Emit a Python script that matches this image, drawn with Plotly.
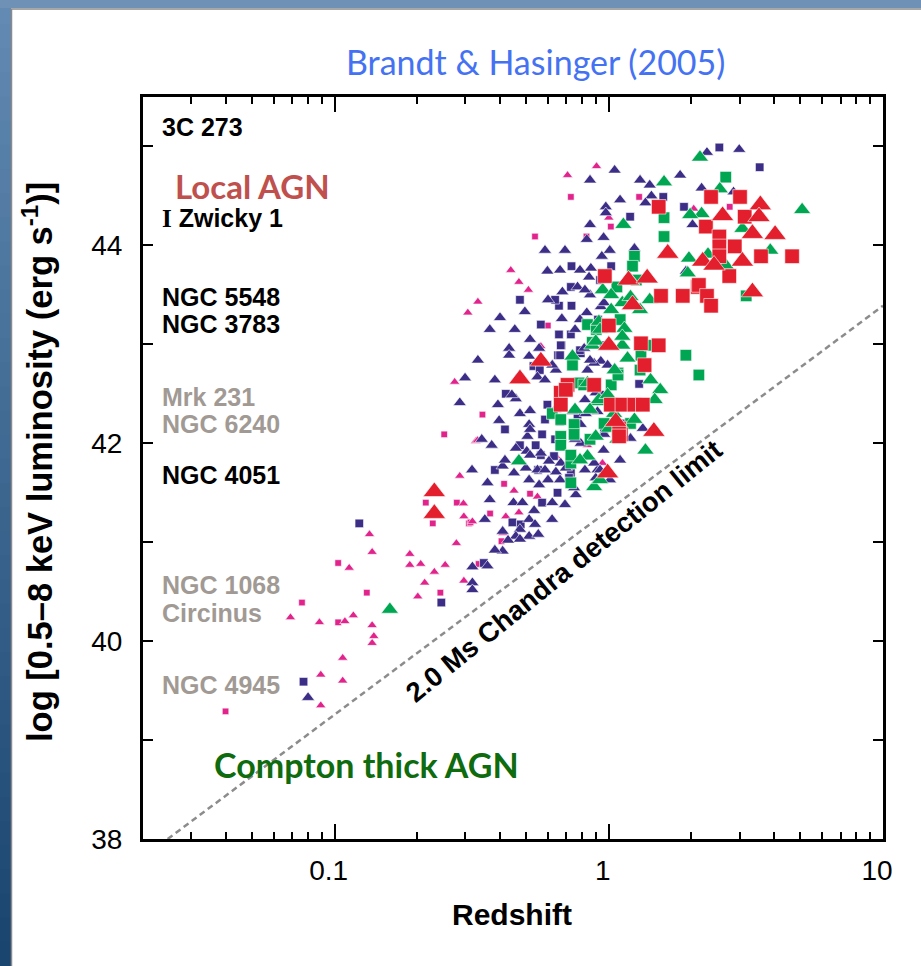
import plotly.graph_objects as go

# ---------------- data: redshift and log10 X-ray luminosity ----------------
# optically faint / low-z sources (magenta)
mag_tri_z = [0.089, 0.089, 0.107, 0.107, 0.069, 0.088, 0.109, 0.117, 0.137, 0.139, 0.137,
             0.113, 0.134, 0.137, 0.188, 0.188, 0.206, 0.213, 0.231, 0.253, 0.201, 0.278,
             0.295, 0.296, 0.286, 0.318, 0.296, 0.327, 0.274, 0.332, 0.421, 0.451, 0.470,
             0.549, 0.411, 0.641, 0.836, 0.948, 0.565, 0.902, 0.707, 0.439, 0.470, 0.509,
             0.333, 0.306, 1.00, 2.04]
mag_tri_L = [39.35, 39.66, 39.60, 39.83, 40.24, 40.19, 40.20, 40.26, 40.16, 40.05, 39.98,
             40.74, 41.08, 40.90, 40.88, 40.77, 40.78, 40.59, 40.70, 40.77, 40.45, 40.99,
             41.39, 41.26, 41.67, 41.21, 40.61, 42.02, 42.62, 42.03, 41.26, 41.52, 41.30,
             41.46, 41.09, 41.87, 41.98, 41.80, 42.98, 44.80, 44.71, 43.75, 43.63, 43.55,
             43.43, 43.32, 44.28, 44.37]
mag_sq_z = [0.040, 0.076, 0.103, 0.103, 0.131, 0.243, 0.279, 0.228, 0.215, 0.309, 0.335,
            0.251, 0.346, 0.313, 0.369, 0.415, 0.516, 0.406, 0.727, 0.538, 0.829, 1.017,
            1.29, 0.599, 2.76]
mag_sq_L = [39.29, 40.39, 40.19, 40.79, 40.49, 40.49, 41.40, 41.19, 41.40, 41.19, 40.78,
            42.09, 42.29, 41.20, 41.29, 41.59, 41.49, 41.01, 44.49, 44.09, 44.09, 44.19,
            44.49, 43.19, 44.39]

# navy sources
navy_tri_z = [0.080, 0.318, 0.318, 0.318, 0.433, 0.433, 0.512, 0.557, 0.549, 0.641, 0.458,
              0.286, 0.398, 0.474, 0.516, 0.512, 0.374, 0.458, 0.505, 0.502, 0.565, 0.410,
              0.451, 0.498, 0.549, 0.605, 0.512, 0.557, 0.361, 0.449, 0.484, 0.534, 0.512,
              0.474, 0.410, 0.458, 0.512, 0.553, 0.410, 0.361, 0.622, 0.641, 0.668, 0.758,
              0.747, 0.790, 0.909, 0.884, 0.957, 0.836, 0.747, 0.909, 0.896, 0.790, 0.836,
              0.935, 0.990, 1.33, 1.20, 0.975, 0.975, 0.957, 1.008, 0.943, 1.24, 0.597,
              0.860, 0.847, 0.677, 0.769, 0.674, 0.831, 0.935, 0.884, 0.813, 0.622, 0.831,
              2.28, 2.99, 2.18, 2.85, 1.43, 1.36, 2.02, 1.91, 0.960, 0.737, 0.824, 0.896,
              0.697, 0.962,
              0.368, 0.401, 0.494, 0.600, 0.785, 0.474, 0.384, 0.585, 0.344, 0.516, 0.585,
              0.418, 0.692, 0.621, 0.368, 0.474, 0.785, 0.692, 0.854, 1.099, 1.30, 0.854,
              0.753, 0.818, 0.929, 1.099, 1.01,
              0.299, 0.333, 0.394, 0.317, 0.353, 0.384, 0.429, 0.538, 0.600, 0.664, 0.734,
              0.818, 0.854, 0.753, 0.818, 0.664, 0.585, 0.854, 1.05, 1.41, 1.82, 0.516,
              0.454, 0.637, 0.516, 0.443]
navy_tri_L = [39.43, 40.75, 40.59, 40.52, 42.96, 42.89, 42.88, 42.96, 42.67, 42.74, 42.45,
              42.41, 42.23, 42.30, 42.33, 42.19, 41.98, 41.95, 42.07, 41.92, 41.90, 41.77,
              41.70, 41.75, 41.73, 41.82, 41.63, 41.58, 41.60, 41.40, 41.40, 41.32, 41.23,
              41.13, 41.11, 41.06, 41.06, 41.08, 40.91, 40.76, 41.40, 41.71, 41.80, 41.48,
              41.55, 42.00, 41.73, 41.80, 41.93, 42.32, 42.34, 42.32, 42.51, 42.19, 42.74,
              42.83, 42.79, 42.15, 42.05, 44.39, 44.33, 44.08, 43.95, 43.89, 43.97, 43.74,
              43.77, 43.68, 43.53, 43.58, 43.26, 43.32, 43.38, 42.81, 42.96, 42.79, 44.06,
              44.94, 44.97, 44.58, 44.54, 44.50, 44.43, 44.21, 43.74, 43.42, 42.32, 42.30,
              41.65, 41.75, 42.09,
              43.15, 43.27, 43.33, 43.45, 43.25, 42.69, 42.64, 42.64, 42.04, 41.88, 41.73,
              41.83, 41.38, 41.23, 41.43, 41.03, 43.75, 43.95, 44.21, 44.46, 44.66, 43.50,
              42.04, 42.44, 41.73, 41.83, 41.63,
              42.66, 42.84, 42.39, 41.73, 41.23, 40.92, 41.02, 41.18, 41.63, 41.63, 41.88,
              41.73, 42.84, 43.15, 43.55, 43.75, 43.95, 44.66, 44.76, 44.61, 44.71, 43.05,
              43.15, 42.34, 42.14, 42.49]
navy_sq_z = [0.123, 0.077, 0.245, 0.531, 0.653, 0.672, 0.421, 0.597, 0.571, 0.541, 0.565,
             0.350, 0.445, 0.477, 0.650, 0.571, 0.631, 0.727, 0.668, 0.769, 0.961, 0.957,
             0.664, 0.790, 0.957, 1.29, 1.12, 1.196, 0.731, 1.02, 0.727, 0.658, 0.731,
             0.565, 0.658, 0.727, 0.668, 0.664, 2.53, 3.55, 1.58, 1.88, 1.20, 0.716, 0.716,
             0.418, 0.552, 0.637, 0.913, 0.585, 0.929,
             0.474, 0.637, 0.384, 0.785, 0.929, 0.474, 0.560]
navy_sq_L = [41.19, 39.59, 40.39, 42.78, 42.89, 42.99, 42.50, 42.39, 42.09, 41.98, 41.88,
             40.79, 41.20, 41.18, 41.50, 41.40, 41.87, 41.70, 41.97, 42.29, 42.12, 42.47,
             42.22, 42.91, 42.99, 42.60, 42.20, 44.29, 43.79, 43.79, 43.58, 43.39, 43.39,
             43.20, 43.10, 43.10, 42.99, 42.89, 44.99, 44.79, 44.49, 44.39, 43.40, 41.65, 41.78,
             42.14, 41.73, 43.45, 43.25, 42.24, 42.49,
             41.98, 42.04, 41.73, 42.94, 43.65, 43.45, 42.74]

# green sources
green_tri_z = [0.159, 0.470, 0.737, 0.870, 1.12, 1.17, 1.42, 0.836, 0.909, 1.045, 1.24,
               0.896, 1.075, 0.836, 1.36, 0.884, 1.00, 0.920, 1.96, 1.94, 0.950, 1.02,
               1.12, 1.02, 0.920, 1.14, 1.12, 0.896, 0.990, 2.15, 1.59, 2.54, 2.18, 5.07,
               1.13, 3.07, 3.88, 2.67, 2.30, 1.20,
               1.20, 1.41, 1.05, 1.54, 0.785, 0.854, 1.98,
               0.929, 1.30, 0.753, 1.47, 0.929]
green_tri_L = [40.32, 41.82, 42.88, 42.99, 42.99, 42.86, 42.64, 42.61, 42.42, 42.30, 42.24,
               42.07, 42.04, 41.87, 41.93, 41.56, 42.15, 42.44, 43.87, 43.72, 43.55, 43.50,
               43.42, 43.35, 43.23, 43.16, 43.08, 43.03, 42.49, 44.89, 44.64, 44.57, 44.32,
               44.36, 44.21, 44.17, 43.95, 43.80, 43.91, 43.48,
               43.65, 43.45, 42.74, 42.54, 41.83, 42.34, 44.31,
               43.15, 43.35, 42.34, 42.44, 41.63]
green_sq_z = [0.737, 0.870, 1.08, 1.31, 0.779, 1.02, 0.622, 0.668, 0.668, 0.747, 0.747,
              0.668, 0.961, 1.20, 0.727, 0.727, 0.727, 1.24, 1.22, 1.07, 0.836, 1.91, 1.08,
              0.810, 2.13, 2.67, 1.59, 1.59, 3.17,
              1.26, 0.900, 1.30, 1.10, 0.854, 1.41]
green_sq_L = [42.79, 43.02, 42.71, 42.89, 42.61, 42.59, 42.30, 42.24, 42.07, 42.19, 42.09,
              41.98, 42.20, 42.20, 41.80, 41.60, 41.88, 43.89, 43.79, 43.58, 43.20, 42.89,
              42.69, 42.59, 42.69, 44.69, 44.28, 44.09, 43.49,
              43.65, 43.15, 42.74, 43.25, 42.04, 42.99]

# red sources
red_tri_z = [0.231, 0.231, 0.474, 0.565, 1.00, 1.06, 1.46, 0.990, 1.64, 1.18, 1.38, 1.22,
             3.57, 2.60, 3.53, 3.34, 4.04, 3.07, 2.20, 2.42, 3.34]
red_tri_L = [41.51, 41.29, 42.65, 42.83, 42.99, 42.22, 42.12, 41.70, 43.92, 43.65, 43.67,
             43.40, 44.41, 44.30, 44.29, 44.12, 44.11, 43.84, 43.84, 43.80, 43.53]
red_sq_z = [1.31, 1.52, 1.35, 0.707, 0.668, 0.668, 0.884, 1.017, 1.12, 1.24, 1.33, 1.106,
            1.09, 1.09, 0.697, 0.967, 1.55, 1.86, 2.11, 1.00, 1.52, 2.36, 3.01, 3.13, 2.26,
            2.53, 2.53, 2.88, 3.59, 4.66, 2.53, 2.75, 2.13, 2.28, 2.36]
red_sq_L = [43.01, 42.99, 42.79, 42.59, 42.51, 42.39, 42.59, 42.39, 42.39, 42.39, 42.39,
            42.09, 42.15, 42.07, 42.54, 43.69, 43.49, 43.49, 43.58, 43.19, 44.39, 44.49,
            44.49, 44.29, 44.19, 44.09, 43.99, 43.99, 43.89, 43.89, 43.89, 43.69, 43.60,
            43.49, 43.39]

# 2 Ms Chandra flux limit
limit_z = [0.0246, 10.0]
limit_L = [38.0, 43.39]

# local AGN reference luminosities (label, log L, colour)
local_names = ["3C 273", "<span style='font-family:Liberation Serif'>I</span> Zwicky 1",
               "NGC 5548", "NGC 3783", "Mrk 231", "NGC 6240", "NGC 4051",
               "NGC 1068", "Circinus", "NGC 4945"]
local_L = [45.20, 44.28, 43.48, 43.21, 42.47, 42.19, 41.68, 40.57, 40.28, 39.56]
local_col = ["#000000", "#000000", "#000000", "#000000", "#a19a94", "#a19a94",
             "#000000", "#a19a94", "#a19a94", "#a19a94"]

x_ticks = [0.1, 1, 10]
x_ticktext = ["0.1", "1", "10"]
y_ticks = [38, 40, 42, 44]

# ---------------- figure geometry ----------------
W, H = 921, 966
PL, PR, PT, PB = 143, 883, 97, 839


def px_x(px):
    return (px - PL) / (PR - PL)


def px_y(py):
    return (PB - py) / (PB - PT)


MAG, NAVY, GREEN, RED = "#e1238b", "#3c2e87", "#00a651", "#e41f2d"
EDGE = dict(color="rgba(255,255,255,0.75)", width=0.8)

fig = go.Figure()


def add_pts(z, L, color, symbol, size):
    fig.add_trace(go.Scatter(x=z, y=L, mode="markers", hoverinfo="skip",
                             marker=dict(color=color, symbol=symbol, size=size, line=EDGE)))


add_pts(mag_sq_z, mag_sq_L, MAG, "square", 6.5)
add_pts(mag_tri_z, mag_tri_L, MAG, "triangle-up", 9)
add_pts(navy_sq_z, navy_sq_L, NAVY, "square", 8.5)
add_pts(navy_tri_z, navy_tri_L, NAVY, "triangle-up", 11.5)
add_pts(green_sq_z, green_sq_L, GREEN, "square", 11.5)
add_pts(green_tri_z, green_tri_L, GREEN, "triangle-up", 15)
add_pts(red_sq_z, red_sq_L, RED, "square", 14.5)
add_pts(red_tri_z, red_tri_L, RED, "triangle-up", 19.5)

fig.add_trace(go.Scatter(x=limit_z, y=limit_L, mode="lines", hoverinfo="skip",
                         line=dict(color="#8c8c8c", width=2.5, dash="6px,4px")))

# ---------------- frame decoration ----------------
shapes = []
n_seg = 40
top_c = (0x62, 0x8a, 0xb2)
bot_c = (0x1a, 0x45, 0x6f)
for i in range(n_seg):
    t = i / (n_seg - 1)
    c = tuple(int(top_c[k] + (bot_c[k] - top_c[k]) * t) for k in range(3))
    y0 = i * H / n_seg
    y1 = (i + 1) * H / n_seg + 1
    shapes.append(dict(type="rect", xref="paper", yref="paper", layer="below",
                       x0=px_x(0), x1=px_x(11), y0=px_y(y1), y1=px_y(y0),
                       fillcolor="rgb(%d,%d,%d)" % c, line=dict(width=0)))
shapes.append(dict(type="rect", xref="paper", yref="paper", layer="below",
                   x0=px_x(0), x1=px_x(W), y0=px_y(8), y1=px_y(0),
                   fillcolor="#6e91b5", line=dict(width=0)))
shapes.append(dict(type="line", xref="paper", yref="paper",
                   x0=px_x(11), x1=px_x(W), y0=px_y(9), y1=px_y(9),
                   line=dict(color="#8a8a8a", width=1.5)))
shapes.append(dict(type="line", xref="paper", yref="paper",
                   x0=px_x(11.5), x1=px_x(11.5), y0=px_y(H), y1=px_y(9),
                   line=dict(color="#8a8a8a", width=1.5)))

# ---------------- annotations ----------------
ann = []
ann.append(dict(text="Brandt &amp; Hasinger (2005)", xref="paper", yref="paper",
                x=px_x(535), y=px_y(62), xanchor="center", yanchor="middle", showarrow=False,
                font=dict(family="Lato, Open Sans", size=34, color="#4472f2")))
ann.append(dict(text="log [0.5–8 keV luminosity (erg s<sup>-1</sup>)]", xref="paper",
                yref="paper", x=px_x(37), y=px_y(462), xanchor="center", yanchor="middle",
                textangle=-90, showarrow=False,
                font=dict(family="Liberation Sans, Arial", size=34.5, color="black",
                          weight="bold")))
ann.append(dict(text="Redshift", xref="paper", yref="paper", x=px_x(512), y=px_y(914),
                xanchor="center", yanchor="middle", showarrow=False,
                font=dict(family="Liberation Sans, Arial", size=30, color="black", weight="bold")))
for name, L, col in zip(local_names, local_L, local_col):
    ann.append(dict(text=name, xref="paper", yref="y", x=px_x(160), y=L, xanchor="left",
                    yanchor="middle", showarrow=False,
                    font=dict(family="Liberation Sans, Arial", size=25, color=col,
                              weight="bold")))
ann.append(dict(text="Local AGN", xref="paper", yref="y", x=px_x(173), y=44.60,
                xanchor="left", yanchor="middle", showarrow=False,
                font=dict(family="Lato, Open Sans", size=33, color="#c0504d", weight="bold")))
ann.append(dict(text="Compton thick AGN", xref="paper", yref="y", x=px_x(212), y=38.75,
                xanchor="left", yanchor="middle", showarrow=False,
                font=dict(family="Lato, Open Sans", size=34, color="#0e6b0e", weight="bold")))
ann.append(dict(text="2.0 Ms Chandra detection limit", xref="paper", yref="paper",
                x=px_x(563), y=px_y(571), xanchor="center", yanchor="middle",
                textangle=-39, showarrow=False,
                font=dict(family="Liberation Sans, Arial", size=27.5, color="black",
                          weight="bold")))

minor_x = [0.03, 0.04, 0.05, 0.06, 0.07, 0.08, 0.09,
           0.2, 0.3, 0.4, 0.5, 0.6, 0.7, 0.8, 0.9,
           2, 3, 4, 5, 6, 7, 8, 9]

fig.update_layout(
    width=W, height=H,
    margin=dict(l=PL, r=W - PR, t=PT, b=H - PB),
    paper_bgcolor="white", plot_bgcolor="white",
    showlegend=False,
    shapes=shapes, annotations=ann,
    xaxis=dict(type="log", range=[-1.69897, 1.0], showgrid=False, zeroline=False,
               showline=True, linecolor="black", linewidth=3, mirror="ticks",
               ticks="inside", ticklen=15, tickwidth=2, tickcolor="black",
               tickmode="array", tickvals=x_ticks, ticktext=x_ticktext,
               tickfont=dict(family="Liberation Sans, Arial", size=28, color="black"),
               ticklabelstandoff=4, ticklabelshift=-6,
               minor=dict(ticks="inside", ticklen=7, tickwidth=2, tickcolor="black",
                          tickmode="array", tickvals=minor_x, showgrid=False)),
    yaxis=dict(range=[38, 45.5], showgrid=False, zeroline=False,
               showline=True, linecolor="black", linewidth=3, mirror="ticks",
               ticks="inside", ticklen=10, tickwidth=2, tickcolor="black",
               tickmode="array", tickvals=y_ticks,
               tickfont=dict(family="Liberation Sans, Arial", size=28, color="black"),
               ticklabelstandoff=12,
               minor=dict(ticks="inside", ticklen=10, tickwidth=2, tickcolor="black",
                          dtick=1, tick0=38, showgrid=False)),
)

fig.write_html("out.html")
